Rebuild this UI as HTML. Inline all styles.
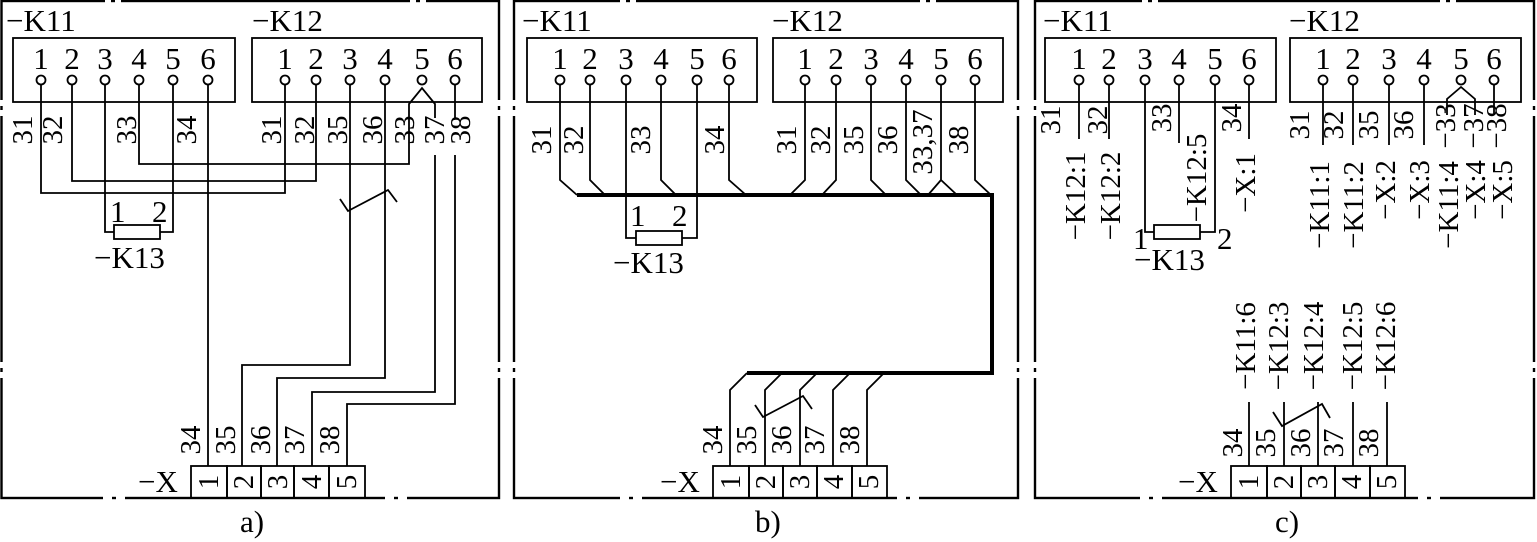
<!DOCTYPE html>
<html><head><meta charset="utf-8"><style>
html,body{margin:0;padding:0;background:#fff}
svg{display:block}
text{font-family:"Liberation Serif",serif;fill:#000}
</style></head><body>
<svg width="1537" height="542" viewBox="0 0 1537 542" xmlns="http://www.w3.org/2000/svg">
<defs><style>
.l{stroke:#000;stroke-width:1.8;fill:none}
.f{stroke:#000;stroke-width:2.4;fill:none}
.b{stroke:#000;stroke-width:4;fill:none}
.p{stroke:#000;stroke-width:1.8;fill:#fff}
.n{font-size:31px}
.t{font-size:31px}
.r{font-size:29px}
</style></defs>

<!-- frames -->
<rect class="f" x="1.5" y="1" width="497.5" height="497"/>
<rect class="f" x="514" y="1" width="504" height="497"/>
<rect class="f" x="1035" y="1" width="499" height="497"/>
<g fill="#fff">
<rect x="105" y="-2" width="16" height="6"/><rect x="410" y="-2" width="16" height="6"/>
<rect x="620" y="-2" width="16" height="6"/><rect x="920" y="-2" width="16" height="6"/>
<rect x="1142" y="-2" width="16" height="6"/><rect x="1440" y="-2" width="16" height="6"/>
<rect x="103" y="495" width="22" height="6"/><rect x="385" y="495" width="22" height="6"/>
<rect x="620" y="495" width="22" height="6"/><rect x="897" y="495" width="22" height="6"/>
<rect x="1140" y="495" width="22" height="6"/><rect x="1418" y="495" width="22" height="6"/>
<rect x="-1" y="100" width="6" height="16"/><rect x="-1" y="362" width="6" height="16"/>
<rect x="496" y="100" width="6" height="16"/><rect x="496" y="362" width="6" height="16"/>
<rect x="511" y="100" width="6" height="16"/><rect x="511" y="362" width="6" height="16"/>
<rect x="1015" y="100" width="6" height="16"/><rect x="1015" y="362" width="6" height="16"/>
<rect x="1032" y="100" width="6" height="16"/><rect x="1032" y="362" width="6" height="16"/>
<rect x="1531" y="100" width="6" height="16"/><rect x="1531" y="362" width="6" height="16"/>
</g>
<g stroke="#000" stroke-width="2.4">
<line x1="111" y1="1" x2="115" y2="1"/><line x1="416" y1="1" x2="420" y2="1"/>
<line x1="626" y1="1" x2="630" y2="1"/><line x1="926" y1="1" x2="930" y2="1"/>
<line x1="1148" y1="1" x2="1152" y2="1"/><line x1="1446" y1="1" x2="1450" y2="1"/>
<line x1="112" y1="498" x2="116" y2="498"/><line x1="394" y1="498" x2="398" y2="498"/>
<line x1="629" y1="498" x2="633" y2="498"/><line x1="906" y1="498" x2="910" y2="498"/>
<line x1="1149" y1="498" x2="1153" y2="498"/><line x1="1427" y1="498" x2="1431" y2="498"/>
<line x1="1.5" y1="106" x2="1.5" y2="110"/><line x1="1.5" y1="368" x2="1.5" y2="372"/>
<line x1="499" y1="106" x2="499" y2="110"/><line x1="499" y1="368" x2="499" y2="372"/>
<line x1="514" y1="106" x2="514" y2="110"/><line x1="514" y1="368" x2="514" y2="372"/>
<line x1="1018" y1="106" x2="1018" y2="110"/><line x1="1018" y1="368" x2="1018" y2="372"/>
<line x1="1035" y1="106" x2="1035" y2="110"/><line x1="1035" y1="368" x2="1035" y2="372"/>
<line x1="1534" y1="106" x2="1534" y2="110"/><line x1="1534" y1="368" x2="1534" y2="372"/>
</g>

<!-- ================= PANEL A ================= -->
<text class="t" x="6" y="31">−K11</text>
<text class="t" x="252" y="31">−K12</text>
<rect class="l" x="13" y="38" width="222" height="64"/>
<rect class="l" x="252" y="38" width="230" height="64"/>
<g class="n" text-anchor="middle">
<text x="41" y="69">1</text><text x="72" y="69">2</text><text x="105" y="69">3</text><text x="139" y="69">4</text><text x="173" y="69">5</text><text x="208" y="69">6</text>
<text x="285" y="69">1</text><text x="316" y="69">2</text><text x="350" y="69">3</text><text x="385" y="69">4</text><text x="422" y="69">5</text><text x="455" y="69">6</text>
</g>
<g class="l">
<path d="M41 84V193H285V84"/>
<path d="M72 84V181H316V84"/>
<path d="M139 84V164H409V104L422 88L435 104V118"/>
<path d="M435 155V392H312V466"/>
<path d="M455 84V118"/><path d="M455 155V404H347V466"/>
<path d="M105 84V232H114"/><path d="M173 84V232H160"/>
<path d="M208 84V466"/>
<path d="M350 84V365H242V466"/>
<path d="M385 84V378H277V466"/>
<path d="M340 199L348 211L388 190L397 202"/>
</g>
<g class="p">
<circle cx="41" cy="80" r="4.5"/><circle cx="72" cy="80" r="4.5"/><circle cx="105" cy="80" r="4.5"/><circle cx="139" cy="80" r="4.5"/><circle cx="173" cy="80" r="4.5"/><circle cx="208" cy="80" r="4.5"/>
<circle cx="285" cy="80" r="4.5"/><circle cx="316" cy="80" r="4.5"/><circle cx="350" cy="80" r="4.5"/><circle cx="385" cy="80" r="4.5"/><circle cx="422" cy="80" r="4.5"/><circle cx="455" cy="80" r="4.5"/>
<rect x="114" y="225" width="46" height="14"/>
</g>
<text class="n" x="110" y="222">1</text><text class="n" x="152" y="222">2</text>
<text class="t" x="94" y="268">−K13</text>
<g class="r" text-anchor="middle" dominant-baseline="central">
<text transform="translate(23,130) rotate(-90)">31</text>
<text transform="translate(53,130) rotate(-90)">32</text>
<text transform="translate(127,130) rotate(-90)">33</text>
<text transform="translate(187,130) rotate(-90)">34</text>
<text transform="translate(272,130) rotate(-90)">31</text>
<text transform="translate(305,130) rotate(-90)">32</text>
<text transform="translate(338,130) rotate(-90)">35</text>
<text transform="translate(373,130) rotate(-90)">36</text>
<text transform="translate(405,130) rotate(-90)">33</text>
<text transform="translate(435,130) rotate(-90)">37</text>
<text transform="translate(461,130) rotate(-90)">38</text>
<text transform="translate(191,440) rotate(-90)">34</text>
<text transform="translate(226,440) rotate(-90)">35</text>
<text transform="translate(261,440) rotate(-90)">36</text>
<text transform="translate(295,440) rotate(-90)">37</text>
<text transform="translate(330,440) rotate(-90)">38</text>
</g>
<g class="l">
<rect x="191" y="466" width="36" height="32"/><rect x="227" y="466" width="34" height="32"/><rect x="261" y="466" width="33" height="32"/><rect x="294" y="466" width="35" height="32"/><rect x="329" y="466" width="36" height="32"/>
</g>
<g class="r" text-anchor="middle" dominant-baseline="central">
<text transform="translate(209,482) rotate(-90)">1</text>
<text transform="translate(244,482) rotate(-90)">2</text>
<text transform="translate(278,482) rotate(-90)">3</text>
<text transform="translate(312,482) rotate(-90)">4</text>
<text transform="translate(347,482) rotate(-90)">5</text>
</g>
<text class="t" x="138" y="492">−X</text>
<text class="t" x="240" y="532">a)</text>

<!-- ================= PANEL B ================= -->
<text class="t" x="522" y="31">−K11</text>
<text class="t" x="772" y="31">−K12</text>
<rect class="l" x="527" y="38" width="230" height="64"/>
<rect class="l" x="773" y="38" width="230" height="64"/>
<g class="n" text-anchor="middle">
<text x="560" y="69">1</text><text x="590" y="69">2</text><text x="626" y="69">3</text><text x="661" y="69">4</text><text x="697" y="69">5</text><text x="729" y="69">6</text>
<text x="805" y="69">1</text><text x="836" y="69">2</text><text x="871" y="69">3</text><text x="906" y="69">4</text><text x="941" y="69">5</text><text x="975" y="69">6</text>
</g>
<g class="l">
<path d="M560 84V180L577 195"/>
<path d="M590 84V180L605 195"/>
<path d="M661 84V180L676 195"/>
<path d="M729 84V180L746 195"/>
<path d="M805 84V180L790 195"/>
<path d="M836 84V180L822 195"/>
<path d="M871 84V180L886 195"/>
<path d="M906 84V180L921 195"/>
<path d="M928 195L941 180V84M941 180L957 195"/>
<path d="M975 84V180L991 195"/>
<path d="M626 84V238H636"/><path d="M697 84V238H682"/>
<path d="M730 466V390L747 373"/>
<path d="M765 466V390L782 373"/>
<path d="M800 466V390L817 373"/>
<path d="M833 466V390L850 373"/>
<path d="M867 466V390L884 373"/>
<path d="M755 405L763 417L803 396L812 409"/>
</g>
<path class="b" d="M577 195H992V373H747"/>
<g class="p">
<circle cx="560" cy="80" r="4.5"/><circle cx="590" cy="80" r="4.5"/><circle cx="626" cy="80" r="4.5"/><circle cx="661" cy="80" r="4.5"/><circle cx="697" cy="80" r="4.5"/><circle cx="729" cy="80" r="4.5"/>
<circle cx="805" cy="80" r="4.5"/><circle cx="836" cy="80" r="4.5"/><circle cx="871" cy="80" r="4.5"/><circle cx="906" cy="80" r="4.5"/><circle cx="941" cy="80" r="4.5"/><circle cx="975" cy="80" r="4.5"/>
<rect x="636" y="231" width="46" height="14"/>
</g>
<text class="n" x="630" y="226">1</text><text class="n" x="672" y="226">2</text>
<text class="t" x="613" y="273">−K13</text>
<g class="r" text-anchor="middle" dominant-baseline="central">
<text transform="translate(542,140) rotate(-90)">31</text>
<text transform="translate(574,140) rotate(-90)">32</text>
<text transform="translate(641,140) rotate(-90)">33</text>
<text transform="translate(715,140) rotate(-90)">34</text>
<text transform="translate(787,140) rotate(-90)">31</text>
<text transform="translate(821,140) rotate(-90)">32</text>
<text transform="translate(854,140) rotate(-90)">35</text>
<text transform="translate(888,140) rotate(-90)">36</text>
<text transform="translate(923,142) rotate(-90)">33,37</text>
<text transform="translate(959,140) rotate(-90)">38</text>
<text transform="translate(713,440) rotate(-90)">34</text>
<text transform="translate(747,440) rotate(-90)">35</text>
<text transform="translate(782,440) rotate(-90)">36</text>
<text transform="translate(815,440) rotate(-90)">37</text>
<text transform="translate(850,440) rotate(-90)">38</text>
</g>
<g class="l">
<rect x="713" y="466" width="36" height="32"/><rect x="749" y="466" width="34" height="32"/><rect x="783" y="466" width="34" height="32"/><rect x="817" y="466" width="35" height="32"/><rect x="852" y="466" width="35" height="32"/>
</g>
<g class="r" text-anchor="middle" dominant-baseline="central">
<text transform="translate(731,482) rotate(-90)">1</text>
<text transform="translate(766,482) rotate(-90)">2</text>
<text transform="translate(800,482) rotate(-90)">3</text>
<text transform="translate(834,482) rotate(-90)">4</text>
<text transform="translate(869,482) rotate(-90)">5</text>
</g>
<text class="t" x="660" y="492">−X</text>
<text class="t" x="755" y="532">b)</text>

<!-- ================= PANEL C ================= -->
<text class="t" x="1043" y="31">−K11</text>
<text class="t" x="1289" y="31">−K12</text>
<rect class="l" x="1045" y="38" width="231" height="64"/>
<rect class="l" x="1290" y="38" width="231" height="64"/>
<g class="n" text-anchor="middle">
<text x="1079" y="69">1</text><text x="1109" y="69">2</text><text x="1145" y="69">3</text><text x="1179" y="69">4</text><text x="1215" y="69">5</text><text x="1249" y="69">6</text>
<text x="1323" y="69">1</text><text x="1353" y="69">2</text><text x="1389" y="69">3</text><text x="1424" y="69">4</text><text x="1461" y="69">5</text><text x="1494" y="69">6</text>
</g>
<g class="l">
<path d="M1079 84V139"/><path d="M1109 84V139"/>
<path d="M1145 84V232H1154"/><path d="M1215 84V232H1200"/>
<path d="M1179 84V143"/><path d="M1249 84V139"/>
<path d="M1323 84V145"/><path d="M1353 84V145"/><path d="M1389 84V145"/><path d="M1424 84V145"/>
<path d="M1447 115V99L1461 87L1475 99V115"/>
<path d="M1494 84V115"/>
<path d="M1249 402V466"/><path d="M1284 402V466"/><path d="M1318 402V466"/><path d="M1353 402V466"/><path d="M1387 402V466"/>
<path d="M1273 412L1282 426L1322 404L1330 418"/>
</g>
<g class="p">
<circle cx="1079" cy="80" r="4.5"/><circle cx="1109" cy="80" r="4.5"/><circle cx="1145" cy="80" r="4.5"/><circle cx="1179" cy="80" r="4.5"/><circle cx="1215" cy="80" r="4.5"/><circle cx="1249" cy="80" r="4.5"/>
<circle cx="1323" cy="80" r="4.5"/><circle cx="1353" cy="80" r="4.5"/><circle cx="1389" cy="80" r="4.5"/><circle cx="1424" cy="80" r="4.5"/><circle cx="1461" cy="80" r="4.5"/><circle cx="1494" cy="80" r="4.5"/>
<rect x="1154" y="225" width="46" height="14"/>
</g>
<text class="n" x="1133" y="249">1</text><text class="n" x="1217" y="249">2</text>
<text class="t" x="1134" y="270">−K13</text>
<g class="r" text-anchor="middle" dominant-baseline="central">
<text transform="translate(1051,120) rotate(-90)">31</text>
<text transform="translate(1098,120) rotate(-90)">32</text>
<text transform="translate(1162,118) rotate(-90)">33</text>
<text transform="translate(1232,118) rotate(-90)">34</text>
<text transform="translate(1076,196) rotate(-90)">−K12:1</text>
<text transform="translate(1111,196) rotate(-90)">−K12:2</text>
<text transform="translate(1197,178) rotate(-90)">−K12:5</text>
<text transform="translate(1246,183) rotate(-90)">−X:1</text>
<text transform="translate(1300,125) rotate(-90)">31</text>
<text transform="translate(1334,125) rotate(-90)">32</text>
<text transform="translate(1369,125) rotate(-90)">35</text>
<text transform="translate(1404,125) rotate(-90)">36</text>
<text transform="translate(1446,126) rotate(-90)">−33</text>
<text transform="translate(1474,126) rotate(-90)">−37</text>
<text transform="translate(1497,126) rotate(-90)">−38</text>
<text transform="translate(1320,205) rotate(-90)">−K11:1</text>
<text transform="translate(1354,205) rotate(-90)">−K11:2</text>
<text transform="translate(1386,190) rotate(-90)">−X:2</text>
<text transform="translate(1420,190) rotate(-90)">−X:3</text>
<text transform="translate(1449,205) rotate(-90)">−K11:4</text>
<text transform="translate(1476,190) rotate(-90)">−X:4</text>
<text transform="translate(1503,190) rotate(-90)">−X:5</text>
<text transform="translate(1246,346) rotate(-90)">−K11:6</text>
<text transform="translate(1279,346) rotate(-90)">−K12:3</text>
<text transform="translate(1314,346) rotate(-90)">−K12:4</text>
<text transform="translate(1353,346) rotate(-90)">−K12:5</text>
<text transform="translate(1386,346) rotate(-90)">−K12:6</text>
<text transform="translate(1233,443) rotate(-90)">34</text>
<text transform="translate(1266,443) rotate(-90)">35</text>
<text transform="translate(1301,443) rotate(-90)">36</text>
<text transform="translate(1334,443) rotate(-90)">37</text>
<text transform="translate(1369,443) rotate(-90)">38</text>
</g>
<g class="l">
<rect x="1231" y="466" width="36" height="32"/><rect x="1267" y="466" width="34" height="32"/><rect x="1301" y="466" width="34" height="32"/><rect x="1335" y="466" width="35" height="32"/><rect x="1370" y="466" width="35" height="32"/>
</g>
<g class="r" text-anchor="middle" dominant-baseline="central">
<text transform="translate(1249,482) rotate(-90)">1</text>
<text transform="translate(1284,482) rotate(-90)">2</text>
<text transform="translate(1318,482) rotate(-90)">3</text>
<text transform="translate(1352,482) rotate(-90)">4</text>
<text transform="translate(1387,482) rotate(-90)">5</text>
</g>
<text class="t" x="1178" y="492">−X</text>
<text class="t" x="1275" y="532">c)</text>
</svg>
</body></html>
